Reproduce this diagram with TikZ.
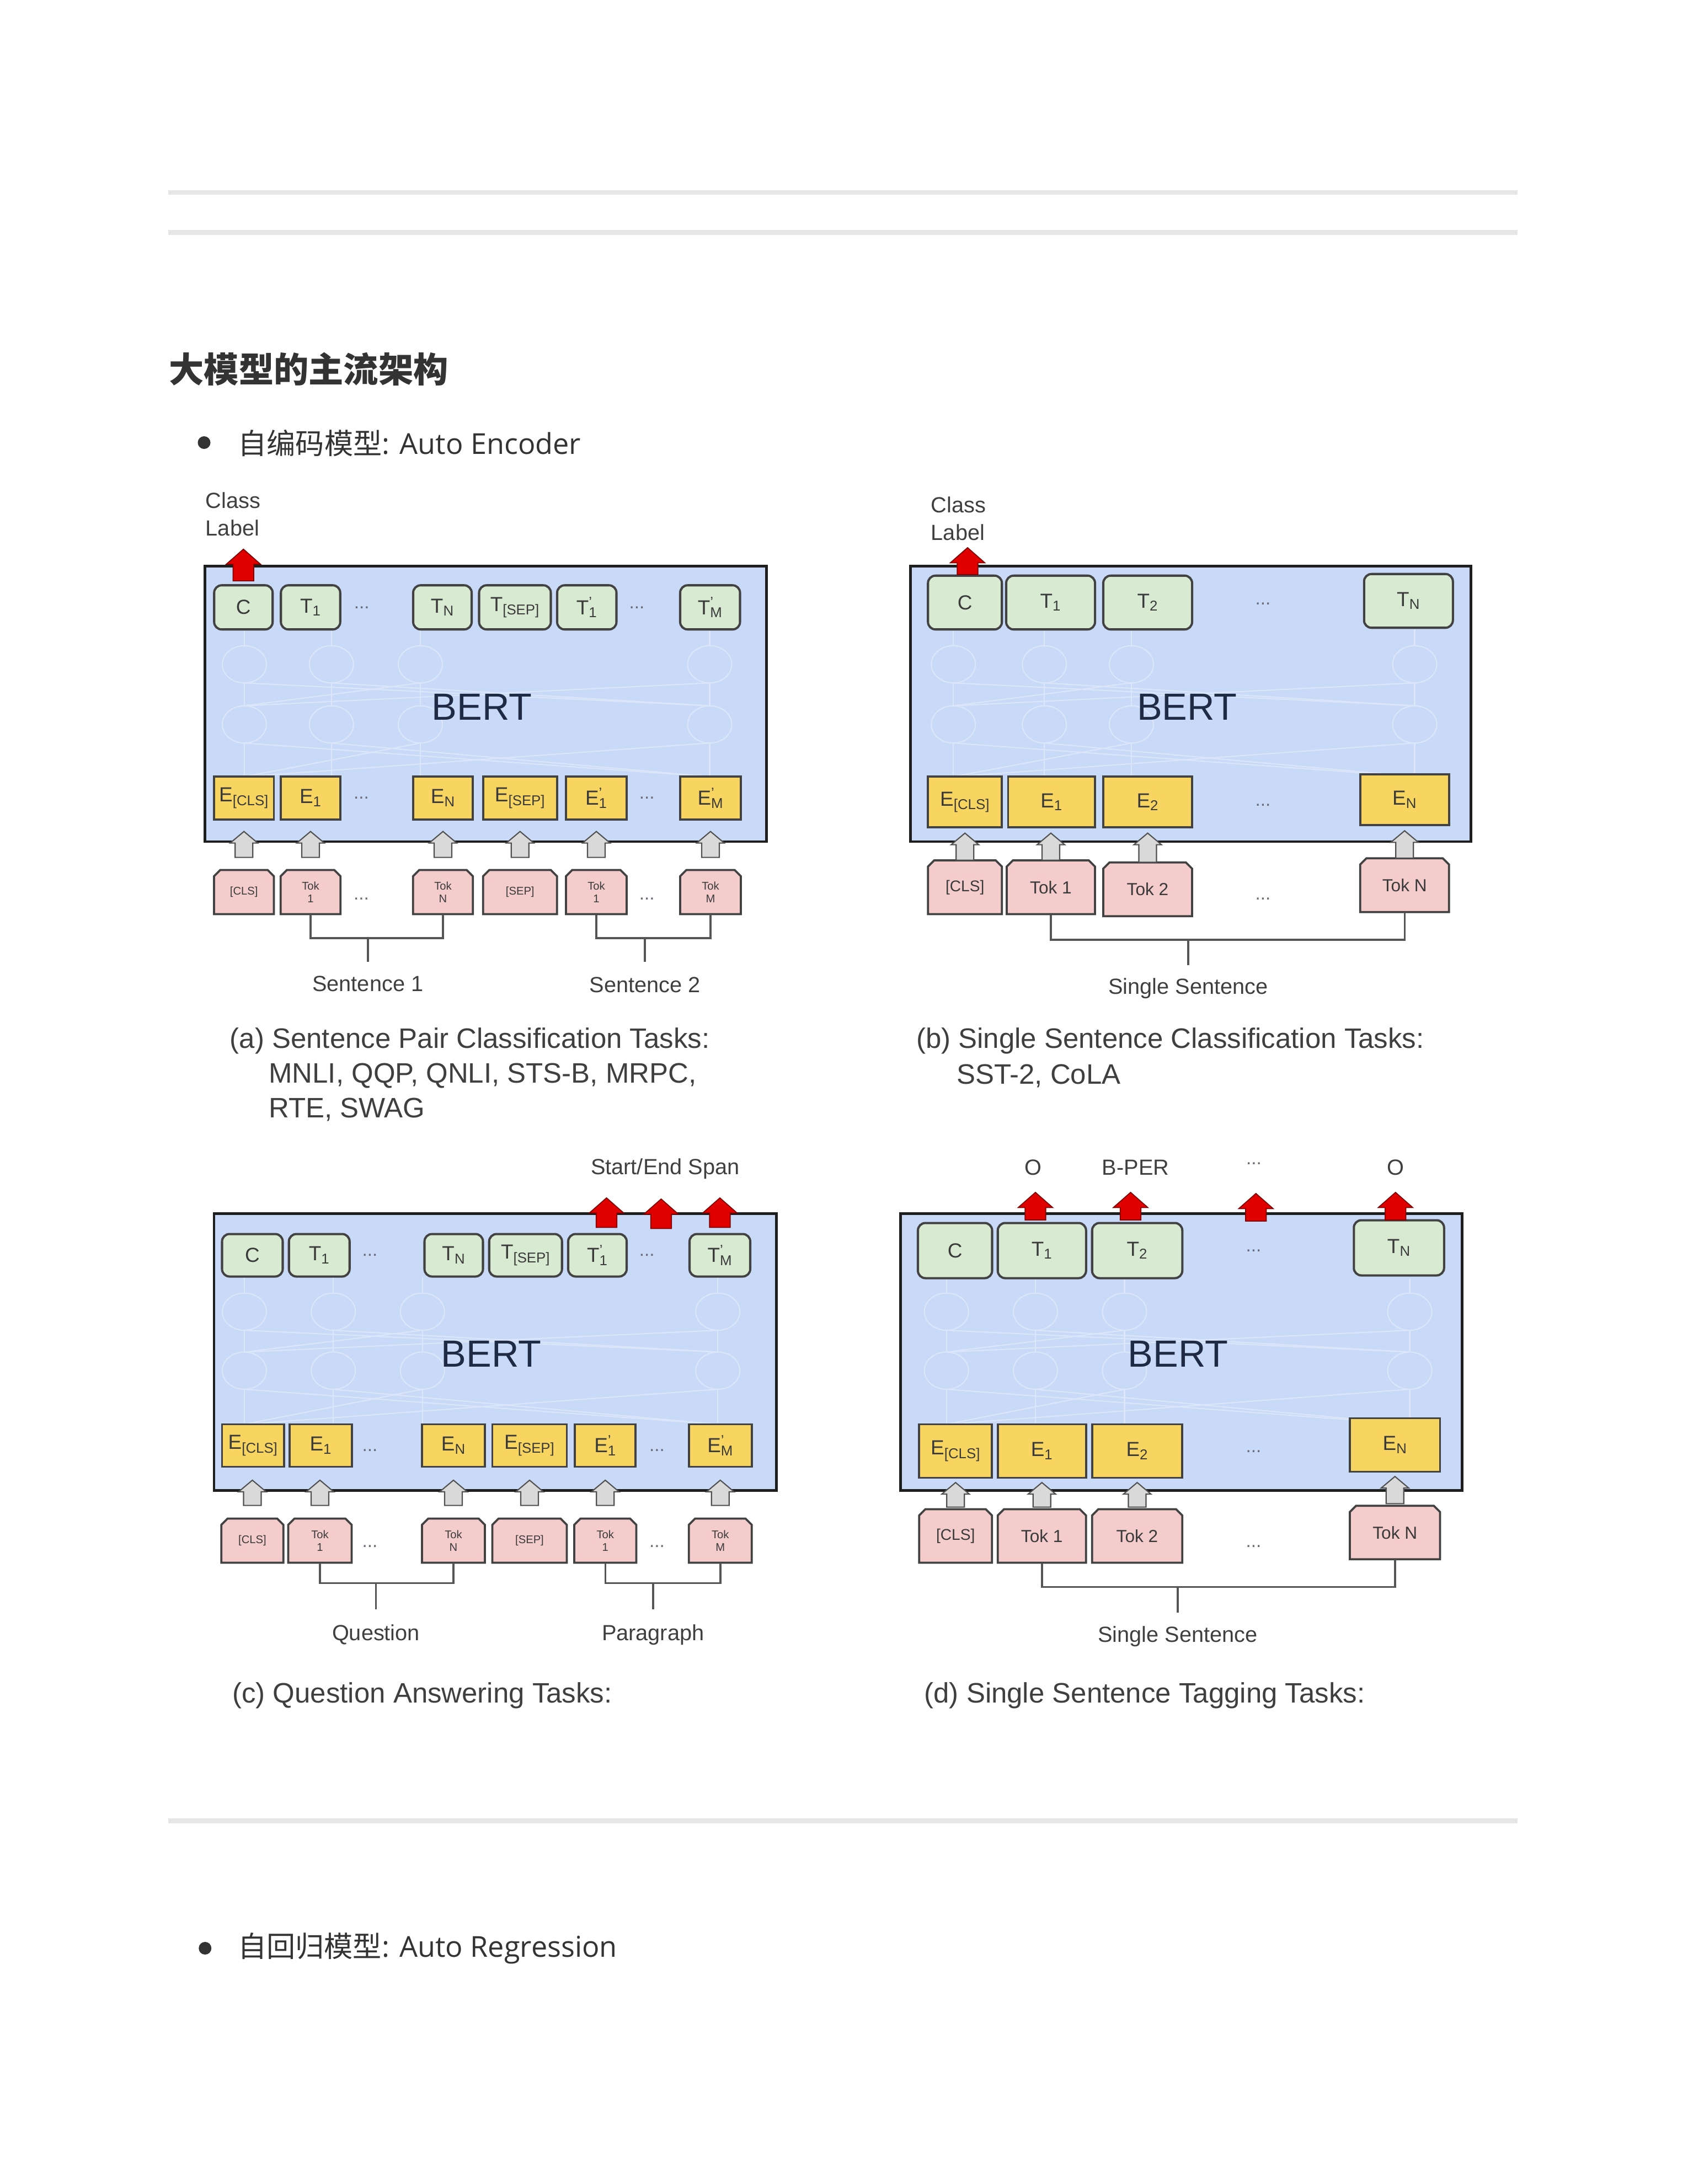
\documentclass[tikz,border=0pt]{standalone}
\usepackage{fontspec}
\setmainfont{Liberation Sans}
\newfontfamily\pagefont{Open Sans}
\newfontfamily\cjk{Noto Sans CJK SC}
\usetikzlibrary{calc}
\definecolor{bertfill}{HTML}{C9DAF8}
\definecolor{bertline}{HTML}{1E1E1E}
\definecolor{netc}{HTML}{DCE6F9}
\definecolor{greenfill}{HTML}{D9EAD3}
\definecolor{yellowfill}{HTML}{F7D560}
\definecolor{pinkfill}{HTML}{F4CCCC}
\definecolor{boxline}{HTML}{424242}
\definecolor{tokc}{HTML}{3A3A3A}
\definecolor{dotc}{HTML}{6A6A78}
\definecolor{lblc}{HTML}{3F3F3F}
\definecolor{bertc}{HTML}{1F2A44}
\definecolor{redf}{HTML}{E00000}
\definecolor{redd}{HTML}{800000}
\definecolor{grayf}{HTML}{D9D9D9}
\definecolor{grayd}{HTML}{505050}
\definecolor{brc}{HTML}{555555}
\definecolor{rulec}{HTML}{E6E6E6}
\definecolor{pagec}{HTML}{333333}
\newcommand\myfs[2]{\fontsize{#1}{#2}\selectfont}
\newcommand\tpr[2]{#1\rlap{\textsuperscript{'}}\textsubscript{#2}}
% generic block arrow: style, base point, tip point, head half width, head height, shaft half width
\newcommand\mkblock[6]{%
  \draw[#1] let \p1=#2, \p2=#3 in
    (\x1,\y2) -- ({\x1+#4},{\y2-#5}) -- ({\x1+#6},{\y2-#5}) -- ({\x1+#6},\y1)
    -- ({\x1-#6},\y1) -- ({\x1-#6},{\y2-#5}) -- ({\x1-#4},{\y2-#5}) -- cycle;}
% red output arrow: anchor, dx, dy, length
\newcommand\mkred[4]{\mkblock{redarr}{($#1+(#2,#3)$)}{($#1+(#2,{#3-#4})$)}{6.25mm}{5.5mm}{3.75mm}}
% gray input arrow: from node, to node, base offset, tip offset
\newcommand\mkgray[4]{\mkblock{grayarr}{($(#1.north)+(0,#3)$)}{($(#2.south)+(0,#4)$)}{5mm}{4.2mm}{3.2mm}}
% pink token box with cut top corners: style, name, x, y, width(px), height(px), text
\newcommand\mkpink[7]{%
  \path[pinkshape] ({#3-#5/2},{#4+#6/2}) -- ({#3-#5/2},{#4-#6/2+4.5}) -- ({#3-#5/2+4.5},{#4-#6/2})
    -- ({#3+#5/2-4.5},{#4-#6/2}) -- ({#3+#5/2},{#4-#6/2+4.5}) -- ({#3+#5/2},{#4+#6/2}) -- cycle;
  \node[#1, minimum width={#5*0.5mm}, minimum height={#6*0.5mm}] (#2) at (#3,#4) {#7};}
% faint network inside BERT
\newcommand\mknet[8]{%
  \foreach \cc in {#1,#2,#3,#4}{
    \draw[netline] (\cc,#7) -- (\cc,{#5-13.5});
    \draw[netline] (\cc,{#5+13.5}) -- (\cc,{#6-13.5});
    \draw[netline] (\cc,{#6+13.5}) -- (\cc,#8);
    \draw[netline] (\cc,#5) ellipse[x radius=8mm, y radius=6.75mm];
    \draw[netline] (\cc,#6) ellipse[x radius=8mm, y radius=6.75mm];
  }
  \draw[netline] (#1,{#5+13.5}) -- (#4,{#6-13.5});
  \draw[netline] (#4,{#5+13.5}) -- (#1,{#6-13.5});
  \draw[netline] (#2,{#5+13.5}) -- (#4,{#6-13.5});
  \draw[netline] (#3,{#5+13.5}) -- (#1,{#6-13.5});
  \draw[netline] (#1,{#6+13.5}) -- (#4,#8);
  \draw[netline] (#4,{#6+13.5}) -- (#1,#8);
  \draw[netline] (#2,{#6+13.5}) -- (#4,#8);
  \draw[netline] (#3,{#6+13.5}) -- (#1,#8);
}
\tikzset{
  every node/.style={inner sep=0pt},
  bertbox/.style={draw=bertline, line width=2.8pt, fill=bertfill},
  tbox/.style={draw=boxline, line width=2.3pt, fill=greenfill, rounded corners=2.7mm, text=tokc, font=\myfs{21pt}{24pt}},
  ebox/.style={draw=boxline, line width=2.1pt, fill=yellowfill, text=tokc, font=\myfs{21pt}{24pt}},
  pinkshape/.style={draw=boxline, line width=2.1pt, fill=pinkfill, line join=miter},
  pbox/.style={rectangle, text=tokc},
  psmall/.style={pbox, font=\myfs{11.5pt}{13pt}, align=center},
  pbig/.style={pbox, font=\myfs{18pt}{20pt}},
  pcls/.style={pbox, font=\myfs{16pt}{18pt}},
  dotstxt/.style={text=dotc, font=\myfs{19pt}{22pt}},
  lbl/.style={text=lblc, font=\myfs{22.6pt}{28.5pt}},
  captxt/.style={text=lblc, font=\myfs{29pt}{34pt}, anchor=west},
  berttxt/.style={text=bertc, font=\myfs{39pt}{44pt}},
  netline/.style={draw=netc, line width=1.2pt},
  redarr/.style={fill=redf, draw=redd, line width=1pt},
  grayarr/.style={fill=grayf, draw=grayd, line width=1.2pt},
  bracket/.style={draw=brc, line width=2pt},
  hrule/.style={draw=rulec, line width=1.65mm},
}
\begin{document}
\begin{tikzpicture}[x=0.5mm,y=-0.5mm]
\useasboundingbox (0,0) rectangle (1224,1584);
\fill[white] (0,0) rectangle (1224,1584);

% ---------- page text ----------
\draw[hrule] (122,139.6) -- (1100.4,139.6);
\draw[hrule] (122,168.6) -- (1100.4,168.6);
\draw[hrule] (122,1320.6) -- (1100.4,1320.6);
\node[anchor=west, text=pagec, font=\cjk\bfseries\myfs{36pt}{40pt}] (head) at (122.5,267.6) {大模型的主流架构};
\node[circle, fill=pagec, minimum size=4.6mm] (bul1) at (148,321) {};
\node[anchor=west, text=pagec, font=\myfs{29.7pt}{34pt}] (txt1) at (172.5,321.3) {\cjk 自编码模型\pagefont: Auto Encoder};
\node[circle, fill=pagec, minimum size=4.6mm] (bul2) at (148.7,1413) {};
\node[anchor=west, text=pagec, font=\myfs{29.7pt}{34pt}] (txt2) at (172.3,1413.3) {\cjk 自回归模型\pagefont: Auto Regression};

% ---------- (a) ----------
\node[bertbox, minimum width=203.6mm, minimum height=99.9mm] (a-box) at (352.1,510.5) {};
\mknet{177.2}{240.3}{304.8}{514.6}{481.8}{525.4}{456.5}{563.3}
\node[berttxt] (a-bert) at (349.5,512.7) {BERT};
\begin{scope}[every node/.append style={minimum height=16mm}]
\node[tbox, minimum width=21.2mm] (a-c) at (176.5,440.5) {C};
\node[tbox, minimum width=21.5mm] (a-t1) at (225.2,440.5) {T\textsubscript{1}};
\node[tbox, minimum width=21.2mm] (a-tn) at (320.8,440.5) {T\textsubscript{N}};
\node[tbox, minimum width=26mm] (a-tsep) at (373.4,440.5) {T\textsubscript{[SEP]}};
\node[tbox, minimum width=21.5mm] (a-t1p) at (425.5,440.5) {\tpr{T}{1}};
\node[tbox, minimum width=21.7mm] (a-tm) at (514.9,440.5) {\tpr{T}{M}};
\end{scope}
\node[dotstxt] (a-td1) at (262.3,440.5) {...};
\node[dotstxt] (a-td2) at (461.8,440.5) {...};
\begin{scope}[every node/.append style={minimum height=15.5mm}]
\node[ebox, minimum width=21.7mm] (a-ecls) at (176.9,578.8) {E\textsubscript{[CLS]}};
\node[ebox, minimum width=21.7mm] (a-e1) at (225.2,578.8) {E\textsubscript{1}};
\node[ebox, minimum width=21.7mm] (a-en) at (321.2,578.8) {E\textsubscript{N}};
\node[ebox, minimum width=26.8mm] (a-esep) at (377.1,578.8) {E\textsubscript{[SEP]}};
\node[ebox, minimum width=22mm] (a-e1p) at (432.4,578.8) {\tpr{E}{1}};
\node[ebox, minimum width=22mm] (a-em) at (515.2,578.8) {\tpr{E}{M}};
\end{scope}
\node[dotstxt] (a-ed1) at (262,578.8) {...};
\node[dotstxt] (a-ed2) at (469.1,578.8) {...};
\mkpink{psmall}{a-pcls}{176.9}{647}{43.4}{32}{[CLS]}
\mkpink{psmall}{a-p1}{225.2}{647}{43.4}{32}{Tok\\1}
\mkpink{psmall}{a-pn}{321.2}{647}{43.4}{32}{Tok\\N}
\mkpink{psmall}{a-psep}{377.1}{647}{53.6}{32}{[SEP]}
\mkpink{psmall}{a-p1p}{432.4}{647}{44}{32}{Tok\\1}
\mkpink{psmall}{a-pm}{515.2}{647}{44}{32}{Tok\\M}
\node[dotstxt] (a-pd1) at (262,651.7) {...};
\node[dotstxt] (a-pd2) at (469.1,651.7) {...};
\mkgray{a-pcls}{a-ecls}{-9}{8}
\mkgray{a-p1}{a-e1}{-9}{8}
\mkgray{a-pn}{a-en}{-9}{8}
\mkgray{a-psep}{a-esep}{-9}{8}
\mkgray{a-p1p}{a-e1p}{-9}{8}
\mkgray{a-pm}{a-em}{-9}{8}
\node[lbl, align=left] (a-cl) at (169,373) {Class\\Label};
\mkred{(a-c.north)}{0}{-2.4}{23}
\node[lbl] (a-l1) at (266.7,713.7) {Sentence 1};
\node[lbl] (a-l2) at (467.6,714.5) {Sentence 2};
\draw[bracket] (a-p1.south) -- ++(0,17.3) coordinate (a-bj1) -| (a-pn.south);
\draw[bracket] (a-l1.north |- a-bj1) -- ++(0,17.2);
\draw[bracket] (a-p1p.south) -- ++(0,17.3) coordinate (a-bj2) -| (a-pm.south);
\draw[bracket] (a-l2.north |- a-bj2) -- ++(0,17.2);
\node[captxt] (a-cap1) at (166.6,755.1) {(a) Sentence Pair Classification Tasks:};
\node[captxt] (a-cap2) at (194.8,780.3) {MNLI, QQP, QNLI, STS-B, MRPC,};
\node[captxt] (a-cap3) at (194.8,804.6) {RTE, SWAG};

% ---------- (b) ----------
\node[bertbox, minimum width=203.3mm, minimum height=99.9mm] (b-box) at (863.4,510.5) {};
\mknet{691.3}{757.3}{820.4}{1025.8}{481.8}{525.4}{456.5}{563.3}
\node[berttxt] (b-bert) at (860.8,512.7) {BERT};
\begin{scope}[every node/.append style={minimum height=19.5mm}]
\node[tbox, minimum width=26.8mm] (b-c) at (699.7,437) {C};
\node[tbox, minimum width=32.2mm] (b-t1) at (761.8,437) {T\textsubscript{1}};
\node[tbox, minimum width=32.2mm] (b-t2) at (832.2,437) {T\textsubscript{2}};
\node[tbox, minimum width=32.2mm] (b-tn) at (1021.3,435.8) {T\textsubscript{N}};
\end{scope}
\node[dotstxt] (b-td) at (915.8,438) {...};
\begin{scope}[every node/.append style={minimum height=18.4mm}]
\node[ebox, minimum width=26.8mm] (b-ecls) at (699.7,581.7) {E\textsubscript{[CLS]}};
\node[ebox, minimum width=31.5mm] (b-e1) at (762.5,581.7) {E\textsubscript{1}};
\node[ebox, minimum width=32.2mm] (b-e2) at (832.2,581.7) {E\textsubscript{2}};
\node[ebox, minimum width=32.2mm] (b-en) at (1018.5,580) {E\textsubscript{N}};
\end{scope}
\node[dotstxt] (b-ed) at (915.8,584) {...};
\mkpink{pcls}{b-pcls}{699.7}{643.5}{53.6}{39}{[CLS]}
\mkpink{pbig}{b-p1}{762}{643.5}{64}{39}{Tok 1}
\mkpink{pbig}{b-p2}{832.2}{645}{64.4}{39}{Tok 2}
\mkpink{pbig}{b-pn}{1018.5}{642}{64.4}{39}{Tok N}
\node[dotstxt] (b-pd) at (915.8,651.7) {...};
\mkgray{b-pcls}{b-ecls}{0}{3.4}
\mkgray{b-p1}{b-e1}{0}{3.4}
\mkgray{b-p2}{b-e2}{0}{3.4}
\mkgray{b-pn}{b-en}{0}{3.4}
\node[lbl, align=left] (b-cl) at (695,376) {Class\\Label};
\mkred{(b-c.north)}{1.9}{0}{19.5}
\node[lbl] (b-l) at (861.5,716.7) {Single Sentence};
\draw[bracket] (b-p1.south) -- ++(0,18.4) coordinate (b-bj) -| (b-pn.south);
\draw[bracket] (b-l.north |- b-bj) -- ++(0,18.4);
\node[captxt] (b-cap1) at (664.3,755.1) {(b) Single Sentence Classification Tasks:};
\node[captxt] (b-cap2) at (693.5,780.3) {SST-2, CoLA};

% ---------- (c) ----------
\node[bertbox, minimum width=203.9mm, minimum height=100.45mm] (c-box) at (359.1,980.7) {};
\mknet{177.2}{241.7}{306.3}{520.5}{951.3}{994.1}{925.8}{1033}
\node[berttxt] (c-bert) at (356.2,982) {BERT};
\begin{scope}[every node/.append style={minimum height=15.4mm}]
\node[tbox, minimum width=22mm] (c-c) at (183,910.4) {C};
\node[tbox, minimum width=22mm] (c-t1) at (231.5,910.4) {T\textsubscript{1}};
\node[tbox, minimum width=21.2mm] (c-tn) at (329,910.4) {T\textsubscript{N}};
\node[tbox, minimum width=26.4mm] (c-tsep) at (381.1,910.4) {T\textsubscript{[SEP]}};
\node[tbox, minimum width=21.2mm] (c-t1p) at (433.2,910.4) {\tpr{T}{1}};
\node[tbox, minimum width=22mm] (c-tm) at (522,910.4) {\tpr{T}{M}};
\end{scope}
\node[dotstxt] (c-td1) at (268.2,910.4) {...};
\node[dotstxt] (c-td2) at (469.1,910.4) {...};
\begin{scope}[every node/.append style={minimum height=15.4mm}]
\node[ebox, minimum width=22.5mm] (c-ecls) at (183.5,1048.4) {E\textsubscript{[CLS]}};
\node[ebox, minimum width=22.5mm] (c-e1) at (232.6,1048.4) {E\textsubscript{1}};
\node[ebox, minimum width=22.8mm] (c-en) at (328.8,1048.4) {E\textsubscript{N}};
\node[ebox, minimum width=27mm] (c-esep) at (384,1048.4) {E\textsubscript{[SEP]}};
\node[ebox, minimum width=22mm] (c-e1p) at (438.9,1048.4) {\tpr{E}{1}};
\node[ebox, minimum width=22.8mm] (c-em) at (522.3,1048.4) {\tpr{E}{M}};
\end{scope}
\node[dotstxt] (c-ed1) at (268.2,1051.7) {...};
\node[dotstxt] (c-ed2) at (476.4,1051.7) {...};
\mkpink{psmall}{c-pcls}{183}{1117.4}{45}{32}{[CLS]}
\mkpink{psmall}{c-p1}{232}{1117.4}{46}{32}{Tok\\1}
\mkpink{psmall}{c-pn}{328.8}{1117.4}{45.6}{32}{Tok\\N}
\mkpink{psmall}{c-psep}{384}{1117.4}{54}{32}{[SEP]}
\mkpink{psmall}{c-p1p}{438.9}{1117.4}{45}{32}{Tok\\1}
\mkpink{psmall}{c-pm}{522.3}{1117.4}{45.6}{32}{Tok\\M}
\node[dotstxt] (c-pd1) at (268.2,1121.3) {...};
\node[dotstxt] (c-pd2) at (476.4,1121.3) {...};
\mkgray{c-pcls}{c-ecls}{-9.4}{9}
\mkgray{c-p1}{c-e1}{-9.4}{9}
\mkgray{c-pn}{c-en}{-9.4}{9}
\mkgray{c-psep}{c-esep}{-9.4}{9}
\mkgray{c-p1p}{c-e1p}{-9.4}{9}
\mkgray{c-pm}{c-em}{-9.4}{9}
\node[lbl] (c-span) at (482.3,847.5) {Start/End Span};
\coordinate (c-sp) at (479.4,891);
\mkred{(c-t1p.north)}{6.6}{-4}{21.4}
\mkred{(c-sp)}{0}{0}{21.4}
\mkred{(c-tm.north)}{0}{-4}{21.4}
\node[lbl] (c-l1) at (272.6,1185.6) {Question};
\node[lbl] (c-l2) at (473.5,1185.6) {Paragraph};
\draw[bracket] (c-p1.south) -- ++(0,14.6) coordinate (c-bj1) -| (c-pn.south);
\draw[bracket] (c-l1.north |- c-bj1) -- ++(0,19);
\draw[bracket] (c-p1p.south) -- ++(0,14.6) coordinate (c-bj2) -| (c-pm.south);
\draw[bracket] (c-l2.north |- c-bj2) -- ++(0,19);
\node[captxt] (c-cap) at (168.4,1229.8) {(c) Question Answering Tasks:};

% ---------- (d) ----------
\node[bertbox, minimum width=203.6mm, minimum height=100.45mm] (d-box) at (856.7,980.7) {};
\mknet{686.3}{750.8}{815.4}{1022.2}{951.3}{994.1}{927}{1033}
\node[berttxt] (d-bert) at (854.2,982) {BERT};
\begin{scope}[every node/.append style={minimum height=20mm}]
\node[tbox, minimum width=26.9mm] (d-c) at (692.5,907) {C};
\node[tbox, minimum width=32mm] (d-t1) at (755.5,907) {T\textsubscript{1}};
\node[tbox, minimum width=32.7mm] (d-t2) at (824.6,907) {T\textsubscript{2}};
\node[tbox, minimum width=32.7mm] (d-tn) at (1014.4,905) {T\textsubscript{N}};
\end{scope}
\node[dotstxt] (d-td) at (909,907) {...};
\begin{scope}[every node/.append style={minimum height=19.4mm}]
\node[ebox, minimum width=26.4mm] (d-ecls) at (692.9,1052.4) {E\textsubscript{[CLS]}};
\node[ebox, minimum width=32mm] (d-e1) at (755.5,1052.4) {E\textsubscript{1}};
\node[ebox, minimum width=32.7mm] (d-e2) at (824.6,1052.4) {E\textsubscript{2}};
\node[ebox, minimum width=32.7mm] (d-en) at (1011.5,1048) {E\textsubscript{N}};
\end{scope}
\node[dotstxt] (d-ed) at (909,1052.5) {...};
\mkpink{pcls}{d-pcls}{692.9}{1114}{52.8}{38.8}{[CLS]}
\mkpink{pbig}{d-p1}{755.5}{1114}{64}{38.8}{Tok 1}
\mkpink{pbig}{d-p2}{824.6}{1114}{65.4}{38.8}{Tok 2}
\mkpink{pbig}{d-pn}{1011.5}{1111.5}{65.4}{38.8}{Tok N}
\node[dotstxt] (d-pd) at (909,1121.3) {...};
\mkgray{d-pcls}{d-ecls}{-1.4}{2.7}
\mkgray{d-p1}{d-e1}{-1.4}{2.7}
\mkgray{d-p2}{d-e2}{-1.4}{2.7}
\mkgray{d-pn}{d-en}{-1.4}{2.7}
\node[lbl] (d-o1) at (749.3,846.8) {O};
\node[lbl] (d-bper) at (823.4,846.8) {B-PER};
\node[dotstxt] (d-ldots) at (909.2,844) {...};
\node[lbl] (d-o2) at (1011.9,846.8) {O};
\coordinate (d-sp) at (910.7,885.6);
\mkred{(d-t1.north)}{-4.7}{-1.4}{20}
\mkred{(d-t2.north)}{-4.8}{-1.4}{20}
\mkred{(d-sp)}{0}{0}{20}
\mkred{(d-tn.north)}{-2.5}{0.6}{20}
\node[lbl] (d-l) at (854,1187) {Single Sentence};
\draw[bracket] (d-p1.south) -- ++(0,17.4) coordinate (d-bj) -| (d-pn.south);
\draw[bracket] (d-l.north |- d-bj) -- ++(0,18.8);
\node[captxt] (d-cap) at (670.1,1229.8) {(d) Single Sentence Tagging Tasks:};
\end{tikzpicture}
\end{document}
